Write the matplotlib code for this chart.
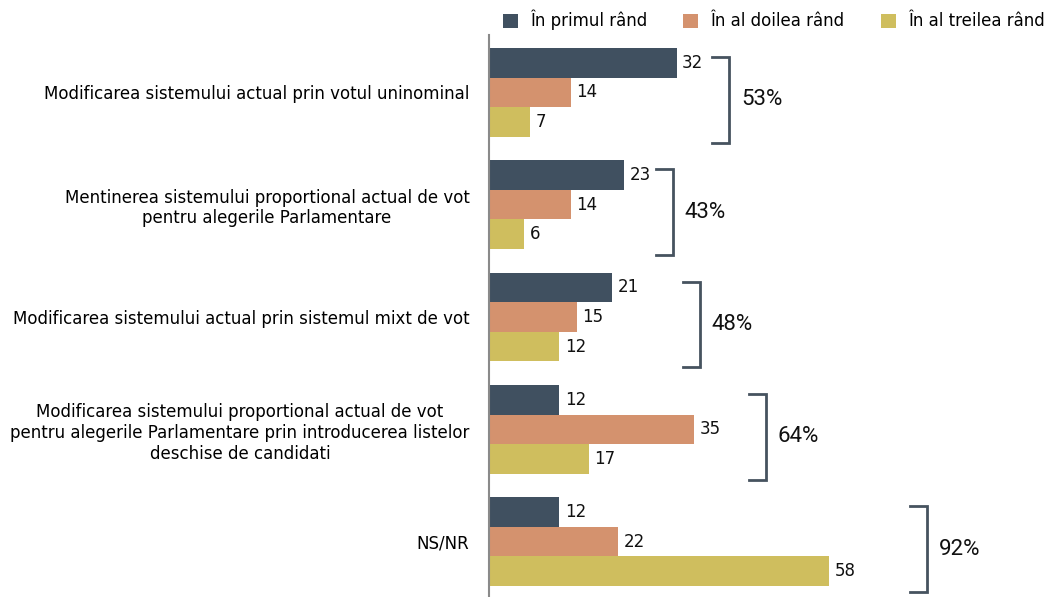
import matplotlib
matplotlib.use("Agg")
import matplotlib.pyplot as plt
from matplotlib.patches import Patch

categories = [
    "Modificarea sistemului actual prin votul uninominal",
    "Mentinerea sistemului proportional actual de vot\npentru alegerile Parlamentare",
    "Modificarea sistemului actual prin sistemul mixt de vot",
    "Modificarea sistemului proportional actual de vot\npentru alegerile Parlamentare prin introducerea listelor\ndeschise de candidati",
    "NS/NR",
]
series_names = ["În primul rând", "În al doilea rând", "În al treilea rând"]
primul = [32, 23, 21, 12, 12]
doilea = [14, 14, 15, 35, 22]
treilea = [7, 6, 12, 17, 58]
totals = ["53%", "43%", "48%", "64%", "92%"]

colors = ["#405060", "#D4926E", "#CFBE5E"]
bracket_x = [41.0, 31.4, 36.0, 47.3, 74.7]  # where each bracket sits (data units)

W, H = 1047, 597
fig = plt.figure(figsize=(W / 100, H / 100), dpi=100)
ax = fig.add_axes([489 / W, 0, 1 - 489 / W, (597 - 35) / H])

step = 3.8
centers = [i * step for i in range(len(categories))]
series = [primul, doilea, treilea]
for k, vals in enumerate(series):
    ys = [c + (k - 1) for c in centers]
    bars = ax.barh(ys, vals, height=1.0, color=colors[k], label=series_names[k])
    for b, v in zip(bars, vals):
        ax.annotate(str(v), (b.get_width(), b.get_y() + b.get_height() / 2),
                    xytext=(4, 0), textcoords="offset points",
                    va="center", ha="left", fontsize=12, color="#111111")

# brackets + totals
for c, bx, t in zip(centers, bracket_x, totals):
    top, bot = c - 1.5 + 0.3, c + 1.5 + 0.2
    tick = 2.9
    ax.plot([bx - tick, bx, bx, bx - tick], [top, top, bot, bot],
            color="#46535F", lw=2, solid_joinstyle="miter", clip_on=False)
    ax.text(bx + 2.0, c + 0.25, t, va="center", ha="left", fontsize=16,
            family=["Roboto", "DejaVu Sans"], color="#111111")

ax.set_xlim(0, (W - 489) / 5.86)
ax.set_ylim(centers[-1] + 1.5 + 0.37, -1.94)
ax.set_yticks(centers)
ax.set_yticklabels(categories, fontsize=12, multialignment="center")
ax.tick_params(axis="y", length=0, pad=14)
ax.set_xticks([])
for s in ["top", "right", "bottom"]:
    ax.spines[s].set_visible(False)
ax.spines["left"].set_color("#8A8A8A")
ax.spines["left"].set_linewidth(1.5)

handles = [Patch(facecolor=colors[k], label=series_names[k]) for k in range(3)]
fig.legend(handles=handles, loc="upper right", bbox_to_anchor=(1045 / W, 1 - 10 / H), ncol=3,
           frameon=False, fontsize=12, handlelength=0.9, handleheight=0.9,
           handletextpad=0.72, columnspacing=2.2, borderpad=0, borderaxespad=0)

fig.savefig("out.png", dpi=100)
